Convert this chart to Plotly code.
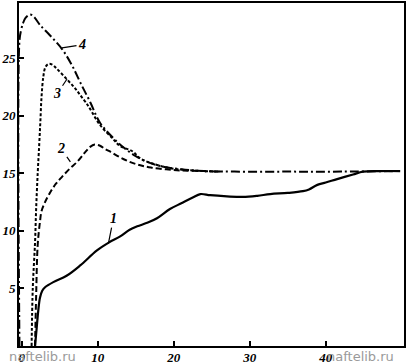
import plotly.graph_objects as go

# Curve 1 (solid)
x1 = [1.75, 1.97, 2.18, 2.4, 2.7, 3.07, 4.16, 5.9, 7.7, 9.9, 11.5, 12.9, 14.2, 15.2, 16.5, 17.8, 19.5,
      21.0, 22.5, 23.5, 24.8, 27.0, 29.1, 31.0, 32.7, 35.0, 37.0, 37.8, 38.9, 40.0, 41.5, 43.6, 44.9, 47.0, 49.8]
y1 = [0, 1.6, 3.1, 4.2, 4.8, 5.1, 5.55, 6.1, 7.0, 8.3, 9.0, 9.5, 10.1, 10.4, 10.7, 11.1, 11.9,
      12.4, 12.9, 13.2, 13.1, 13.0, 12.95, 13.05, 13.2, 13.3, 13.45, 13.6, 14.0, 14.2, 14.5, 14.9, 15.15, 15.2, 15.2]

# Curve 2 (dashed)
x2 = [1.75, 1.9, 2.1, 2.4, 2.6, 3.0, 3.7, 4.5, 5.3, 6.3, 7.3, 8.3, 9.0, 9.6, 10.3, 11.0, 11.6,
      12.9, 14.2, 15.6, 17.0, 19.0, 21.0, 24.0, 26.0]
y2 = [0, 4.5, 8.8, 10.8, 11.7, 12.4, 13.3, 14.1, 14.7, 15.4, 16.0, 16.8, 17.3, 17.5, 17.4, 17.1, 16.9,
      16.4, 16.0, 15.7, 15.5, 15.35, 15.25, 15.2, 15.15]

# Curve 3 (dotted)
x3 = [1.3, 1.45, 1.75, 1.9, 2.1, 2.3, 2.45, 2.6, 2.84, 3.1, 3.5, 4.0, 4.6, 5.9, 7.0, 7.7, 8.6, 9.0,
      10.3, 12.0, 12.9, 14.6, 15.6, 17.0, 19.5, 21.5, 23.9, 26.0]
y3 = [0, 5.0, 9.0, 12.0, 15.0, 17.5, 19.5, 21.6, 23.4, 24.2, 24.5, 24.45, 24.1, 23.2, 22.4, 21.8, 21.0, 20.6,
      19.2, 18.0, 17.4, 16.9, 16.3, 15.9, 15.45, 15.3, 15.2, 15.15]

# Curve 4 (dash-dot)
x4 = [-0.3, -0.3, -0.1, 0.2, 0.5, 1.1, 1.6, 2.4, 3.7, 5.3, 6.6, 7.7, 9.0, 10.3, 12.0, 13.5, 15.0,
      16.5, 18.5, 21.0, 24.0, 28.0, 35.0, 42.0, 49.8]
y4 = [0, 26.5, 27.4, 28.1, 28.5, 28.8, 28.6, 27.9, 27.0, 25.8, 24.4, 22.9, 21.2, 19.4, 18.1, 17.2, 16.5,
      16.0, 15.6, 15.35, 15.2, 15.15, 15.15, 15.15, 15.2]

x_ticks = [0, 10, 20, 30, 40]
y_ticks = [5, 10, 15, 20, 25]

curve_labels = ["1", "2", "3", "4"]
label_tip_x = [11.4, 6.4, 5.96, 5.3]
label_tip_y = [8.9, 16.0, 23.2, 25.9]

fig = go.Figure()
fig.add_trace(go.Scatter(x=x1, y=y1, mode="lines", line=dict(color="black", width=2.2), line_shape="spline"))
fig.add_trace(go.Scatter(x=x2, y=y2, mode="lines", line=dict(color="black", width=2, dash="6px,3px"), line_shape="spline"))
fig.add_trace(go.Scatter(x=x3, y=y3, mode="lines", line=dict(color="black", width=2, dash="3px,2px"), line_shape="spline"))
fig.add_trace(go.Scatter(x=x4, y=y4, mode="lines", line=dict(color="black", width=2, dash="9px,3px,2px,3px"), line_shape="spline"))

offsets = [(5, -25), (-9, -13), (-10, 15), (20, -3)]
lab_font = dict(family="Liberation Serif", size=14, color="black")
for t, xx, yy, (ax, ay) in zip(curve_labels, label_tip_x, label_tip_y, offsets):
    fig.add_annotation(x=xx, y=yy, text="<b><i>%s</i></b>" % t, showarrow=True, arrowhead=0,
                       arrowwidth=1.2, arrowcolor="black", ax=ax, ay=ay, font=lab_font, standoff=0)

wm_font = dict(family="DejaVu Sans", size=13, color="#9a9a9a")
fig.add_annotation(xref="paper", yref="paper", x=0.062, y=-0.032, text="naftelib.ru", showarrow=False,
                   font=wm_font, xanchor="center", yanchor="middle")
fig.add_annotation(xref="paper", yref="paper", x=0.886, y=-0.032, text="naftelib.ru", showarrow=False,
                   font=wm_font, xanchor="center", yanchor="middle")

tick_font = dict(family="Liberation Serif", size=13, color="black")
fig.update_xaxes(range=[-0.36, 50.3], tickvals=x_ticks, ticktext=["<b><i>%d</i></b>" % v for v in x_ticks],
                 ticks="inside", ticklen=5, tickwidth=1.5, tickcolor="black",
                 showline=True, linecolor="black", linewidth=2, mirror=True, automargin=False,
                 ticklabelstandoff=-2,
                 showgrid=False, zeroline=False, tickfont=tick_font)
fig.update_yaxes(range=[0, 29.8], tickvals=y_ticks, ticktext=["<b><i>%d</i></b>" % v for v in y_ticks],
                 ticks="inside", ticklen=5, tickwidth=1.5, tickcolor="black",
                 showline=True, linecolor="black", linewidth=2, mirror=True, automargin=False,
                 ticklabelstandoff=-1,
                 showgrid=False, zeroline=False, tickfont=tick_font)
fig.update_layout(width=406, height=364, margin=dict(l=19, r=2, t=3, b=18),
                  paper_bgcolor="white", plot_bgcolor="white", showlegend=False)
fig.write_html("out.html", config={"displayModeBar": False},
               post_script="document.body.style.margin='0';document.body.style.overflow='hidden';")
